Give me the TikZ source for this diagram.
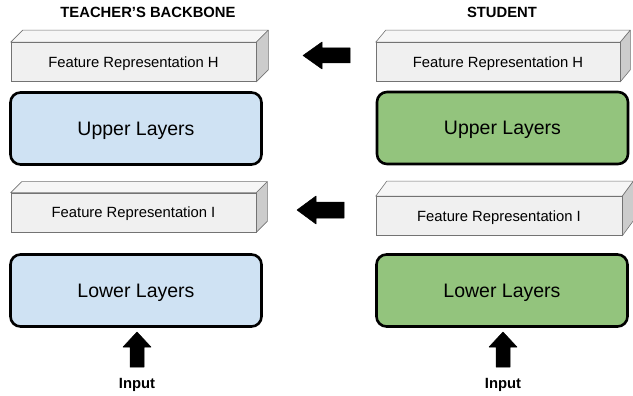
\documentclass[tikz,border=0pt]{standalone}
\usepackage{fontspec}
\setmainfont{Liberation Sans}
\begin{document}
\begin{tikzpicture}[x=1pt,y=-1pt,
  front/.style={draw=gray!90!black, line width=0.6pt, fill=gray!12, minimum height=39pt, inner sep=0pt, text depth=0pt, font=\fontsize{14.8}{16}\selectfont},
  topface/.style={draw=gray!90!black, line width=0.6pt, fill=gray!7, line join=round},
  sideface/.style={draw=gray!90!black, line width=0.6pt, fill=gray!40, line join=round},
  layer/.style={draw=black, line width=2.6pt, rounded corners=10pt, minimum width=251pt, minimum height=72pt, inner sep=0pt, text depth=0pt, font=\fontsize{19.5}{21}\selectfont},
  title/.style={font=\bfseries\fontsize{14.8}{16}\selectfont},
  blockarrow/.style={fill=black, draw=black, line width=0.5pt, line join=round}
]
\definecolor{tblue}{HTML}{CFE2F3}
\definecolor{sgreen}{HTML}{93C47D}
\useasboundingbox (0,0) rectangle (633,396);

\node[title] (tt) at (148,12.5) {TEACHER’S BACKBONE};
\node[title] (st) at (502,12.5) {STUDENT};

% 3D boxes: name, x center, y center, width, depth x, depth y, text
\newcommand{\featbox}[7]{%
  \node[front, minimum width=#4pt] (#1) at (#2,#3) {#7};
  \draw[topface] (#1.north west) -- ++(#5,-#6) -- ([shift={(#5,-#6)}]#1.north east) -- (#1.north east) -- cycle;
  \draw[sideface] (#1.north east) -- ++(#5,-#6) -- ([shift={(#5,-#6)}]#1.south east) -- (#1.south east) -- cycle;
  \node[front, minimum width=#4pt] at (#1) {#7};
}
\featbox{tfh}{133.5}{62}{245}{12}{12}{Feature Representation H}
\featbox{sfh}{498}{62}{244}{10}{12}{Feature Representation H}
\featbox{tfi}{133.5}{212.5}{245}{11}{11}{Feature Representation I}
\featbox{sfi}{499}{216}{246}{11}{15}{Feature Representation I}

\node[layer, fill=tblue] (tul) at (136,128.5) {Upper Layers};
\node[layer, fill=sgreen] (sul) at (502.5,128) {Upper Layers};
\node[layer, fill=tblue] (tll) at (136,290.5) {Lower Layers};
\node[layer, fill=sgreen] (sll) at (502,290.5) {Lower Layers};

% horizontal block arrows
\fill[blockarrow] (350,48) -- (322,48) -- (322,42) -- (303,55.5) -- (322,69) -- (322,63) -- (350,63) -- cycle;
\fill[blockarrow] (344,202) -- (316,202) -- (316,196) -- (297,210) -- (316,224) -- (316,218) -- (344,218) -- cycle;

% vertical block arrows
\fill[blockarrow] (130,367) -- (130,347) -- (123,347) -- (137,332) -- (151,347) -- (144,347) -- (144,367) -- cycle;
\fill[blockarrow] (496,367) -- (496,347) -- (489,347) -- (503,332) -- (517,347) -- (510,347) -- (510,367) -- cycle;

\node[title] (tin) at (137,384.5) {Input};
\node[title] (sin) at (503,384.5) {Input};
\end{tikzpicture}
\end{document}
